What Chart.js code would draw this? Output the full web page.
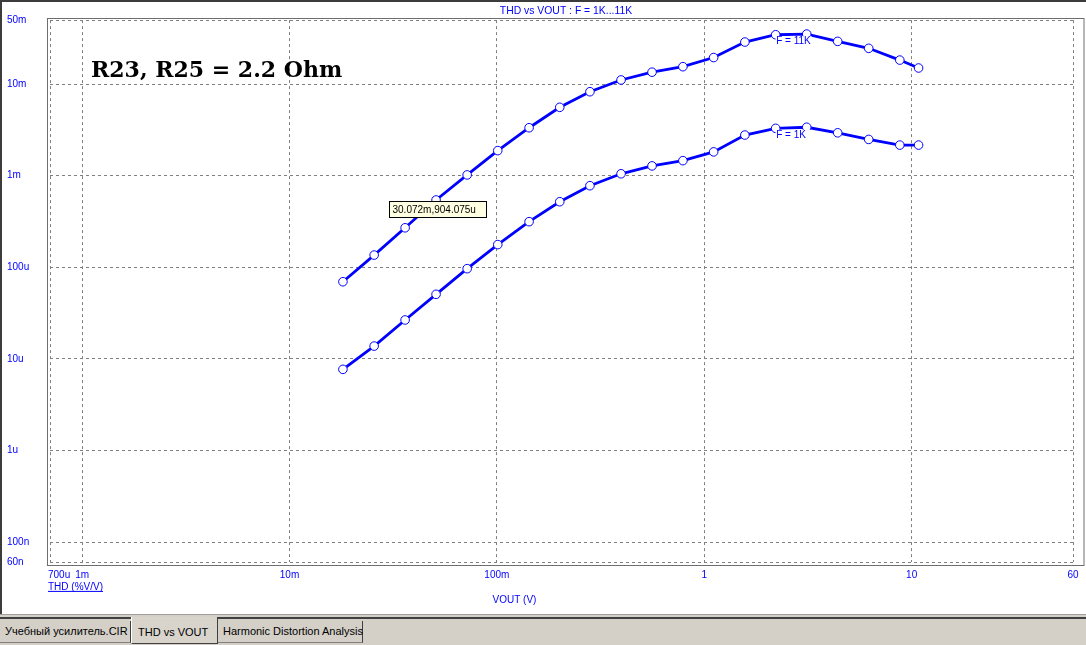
<!DOCTYPE html>
<html><head><meta charset="utf-8">
<script src="https://cdn.jsdelivr.net/npm/chart.js@4.4.0/dist/chart.umd.min.js"></script>
<style>
html,body{margin:0;padding:0;background:#fff;width:1086px;height:645px;overflow:hidden;}
#wrap{position:relative;width:1086px;height:645px;}
#c{position:absolute;left:0;top:0;}
#winTop{position:absolute;left:0;top:0;width:1086px;height:2px;background:#3c3c3c;}
#winLeft{position:absolute;left:0;top:0;width:2px;height:616px;background:#3c3c3c;}
#strip{position:absolute;left:0;top:614px;width:1086px;height:31px;background:#D4D0C8;border-top:1px solid #a0a0a0;}
#stripLine{position:absolute;left:0;top:617px;width:1086px;height:2px;background:#404040;}
.tab{position:absolute;box-sizing:border-box;font:11px "Liberation Sans",Arial,sans-serif;color:#000;background:#D4D0C8;white-space:nowrap;}
#t1{left:0;top:621px;width:131px;height:22px;border-right:1px solid #404040;border-bottom:1px solid #808080;padding:4px 0 0 5px;}
#t2{left:131px;top:617px;width:87px;height:27px;border-left:1px solid #fff;border-right:1px solid #404040;border-bottom:1px solid #404040;padding:9px 0 0 6px;background:#D8D4CC;}
#t3{left:218px;top:621px;width:145px;height:22px;border-right:1px solid #404040;border-bottom:1px solid #808080;padding:4px 0 0 5px;}
</style></head>
<body><div id="wrap">
<canvas id="c" width="1086" height="645"></canvas>
<div id="winTop"></div><div id="winLeft"></div>
<div id="strip"></div><div id="stripLine"></div>
<div class="tab" id="t1">Учебный усилитель.CIR</div>
<div class="tab" id="t2">THD vs VOUT</div>
<div class="tab" id="t3">Harmonic Distortion Analysis</div>
</div>
<script>
const vout = [0.0181,0.0256,0.0361,0.0509,0.0719,0.101,0.143,0.201,0.281,0.397,0.560,0.789,1.11,1.57,2.21,3.12,4.40,6.21,8.77,10.8];
const thd11k = [69.6e-6,136e-6,270e-6,543e-6,1.02e-3,1.88e-3,3.34e-3,5.58e-3,8.26e-3,11.1e-3,13.5e-3,15.5e-3,19.5e-3,28.8e-3,34.6e-3,35.2e-3,29.3e-3,24.6e-3,18.3e-3,15.0e-3];
const thd1k = [7.69e-6,13.8e-6,26.6e-6,50.7e-6,96.6e-6,177e-6,315e-6,520e-6,778e-6,1.05e-3,1.28e-3,1.46e-3,1.82e-3,2.78e-3,3.29e-3,3.38e-3,2.94e-3,2.49e-3,2.16e-3,2.16e-3];
const seriesNames = ['F = 11K','F = 1K'];
const xTickVals = [7e-4,1e-3,1e-2,1e-1,1,10,60];
const xTickLabels = ['700u','1m','10m','100m','1','10','60'];
const yTickVals = [6e-8,1e-7,1e-6,1e-5,1e-4,1e-3,1e-2,5e-2];
const yTickLabels = ['60n','100n','1u','10u','100u','1m','10m','50m'];
const titleText = 'THD vs VOUT : F = 1K...11K';
const noteText = 'R23, R25 = 2.2 Ohm';
const cursor = [0.030072, 904.075e-6];
const cursorText = '30.072m,904.075u';
const xTitle = 'VOUT (V)';
const yTitle = 'THD (%V/V)';

const BLUE = '#0000ff';
const SANS = '"Liberation Sans", Arial, sans-serif';

const overlay = {
  id: 'overlay',
  afterDraw(chart) {
    const ctx = chart.ctx, a = chart.chartArea, x = chart.scales.x, y = chart.scales.y;
    ctx.save();
    // frame
    ctx.strokeStyle = '#6e6e6e'; ctx.lineWidth = 1; ctx.setLineDash([]);
    ctx.strokeRect(Math.round(a.left) - 2.5, Math.round(a.top) - 1.5, Math.round(a.right) + 11 - (Math.round(a.left) - 2.5), Math.round(a.bottom) + 3.5 - (Math.round(a.top) - 1.5));
    // x tick labels
    ctx.fillStyle = BLUE; ctx.font = '10px ' + SANS; ctx.textBaseline = 'middle';
    xTickVals.forEach((v, i) => {
      const px = x.getPixelForValue(v);
      if (i === 0) { ctx.textAlign = 'left'; ctx.fillText(xTickLabels[i], px - 2, a.bottom + 12.5); }
      else { ctx.textAlign = 'center'; ctx.fillText(xTickLabels[i], px, a.bottom + 12.5); }
    });
    // axis titles
    ctx.textAlign = 'left';
    ctx.fillText(yTitle, a.left - 2, a.bottom + 24.5);
    const w = ctx.measureText(yTitle).width;
    ctx.fillRect(a.left - 2, a.bottom + 28.5, w, 1);
    ctx.textAlign = 'center';
    ctx.fillText(xTitle, a.left + 464.5, a.bottom + 38);
    // title
    ctx.font = '10.4px ' + SANS;
    ctx.fillText(titleText, (a.left + a.right) / 2 + 4.5, 11.5);
    // big note
    ctx.fillStyle = '#000'; ctx.textAlign = 'left'; ctx.textBaseline = 'alphabetic';
    ctx.font = 'bold 22px "DejaVu Serif", serif';
    ctx.fillText(noteText, 91, 77);
    // series labels
    const series = [thd11k, thd1k];
    ctx.font = '10px ' + SANS; ctx.textBaseline = 'top';
    series.forEach((s, k) => {
      const px = x.getPixelForValue(vout[14]);
      const py = y.getPixelForValue(s[14]);
      ctx.fillStyle = '#fff';
      ctx.fillRect(px, py + 1.5, 36, 11);
      ctx.fillStyle = BLUE;
      ctx.fillText(seriesNames[k], px + 0.5, py + 2);
    });
    // cursor box
    const cx = Math.round(x.getPixelForValue(cursor[0])) + 0.5;
    const cy = Math.round(y.getPixelForValue(cursor[1])) + 21.5;
    ctx.fillStyle = '#FFFFE1'; ctx.fillRect(cx, cy, 97, 16);
    ctx.strokeStyle = '#000'; ctx.strokeRect(cx, cy, 97, 16);
    ctx.fillStyle = '#000'; ctx.textBaseline = 'middle'; ctx.textAlign = 'left';
    ctx.fillText(cursorText, cx + 3, cy + 8.5);
    ctx.restore();
  }
};

const mk = (s) => vout.map((v, i) => ({ x: v, y: s[i] }));
const dsStyle = {
  borderColor: BLUE, borderWidth: 2.8, tension: 0,
  pointRadius: 4.3, pointHoverRadius: 4.3, pointBackgroundColor: '#fff',
  pointBorderColor: BLUE, pointBorderWidth: 1, fill: false
};

new Chart(document.getElementById('c'), {
  type: 'line',
  data: { datasets: [
    Object.assign({ label: seriesNames[0], data: mk(thd11k) }, dsStyle),
    Object.assign({ label: seriesNames[1], data: mk(thd1k) }, dsStyle)
  ]},
  options: {
    responsive: false, animation: false, devicePixelRatio: 1,
    layout: { padding: { left: 7, top: 20.1, right: 13, bottom: 82.6 } },
    plugins: { legend: { display: false }, tooltip: { enabled: false }, title: { display: false } },
    scales: {
      x: {
        type: 'logarithmic', min: 7e-4, max: 60,
        afterBuildTicks: s => { s.ticks = xTickVals.map(v => ({ value: v })); },
        afterFit: s => { s.height = 0; },
        ticks: { display: false, autoSkip: false },
        grid: { color: '#808080', drawTicks: false, lineWidth: 1 },
        border: { display: false, dash: [3, 3] }
      },
      y: {
        type: 'logarithmic', min: 6e-8, max: 5e-2,
        afterBuildTicks: s => { s.ticks = yTickVals.map(v => ({ value: v })); },
        afterFit: s => { s.width = 43; },
        ticks: {
          autoSkip: false, crossAlign: 'far', padding: 0, color: BLUE,
          font: { family: 'Liberation Sans', size: 10 },
          callback: (v, i) => yTickLabels[i]
        },
        grid: { color: '#808080', drawTicks: false, lineWidth: 1 },
        border: { display: false, dash: [3, 3] }
      }
    }
  },
  plugins: [overlay]
});
</script>
</body></html>
